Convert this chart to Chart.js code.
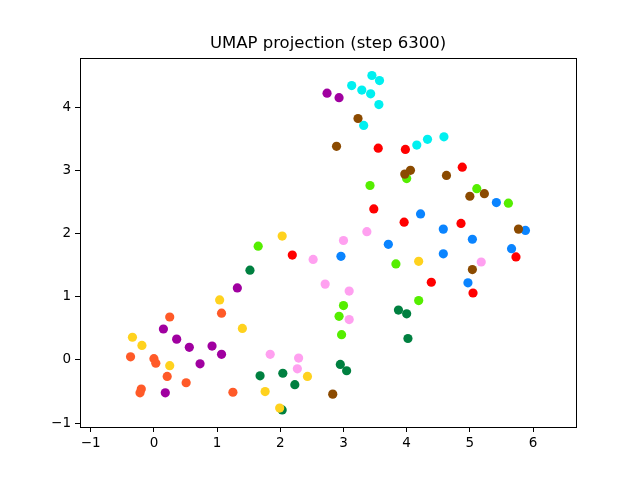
<!DOCTYPE html>
<html>
<head>
<meta charset="utf-8">
<script src="https://cdn.jsdelivr.net/npm/chart.js@4/dist/chart.umd.min.js"></script>
<style>
  html, body { margin: 0; padding: 0; background: #fff; }
</style>
</head>
<body>
<canvas id="umap" width="640" height="480"></canvas>
<script>
// embedding points per cluster
const brownPts = [[3.23,3.82],[2.89,3.38],[3.97,2.94],[4.06,3.00],[4.63,2.92],[5.00,2.59],[5.23,2.63],[5.77,2.07],[5.04,1.43],[2.83,-0.54]];
const yellowPts = [[-0.34,0.36],[-0.19,0.23],[0.25,-0.09],[1.04,0.95],[1.40,0.50],[2.03,1.96],[1.76,-0.50],[1.99,-0.76],[2.43,-0.26],[4.19,1.56]];
const bluePts = [[5.42,2.49],[5.88,2.05],[4.22,2.31],[4.58,2.07],[5.04,1.91],[3.71,1.83],[2.96,1.64],[4.58,1.68],[5.66,1.76],[4.97,1.22]];
const redPts = [[3.55,3.35],[3.98,3.33],[4.88,3.05],[3.48,2.39],[3.96,2.18],[4.86,2.16],[2.19,1.66],[5.73,1.63],[4.39,1.23],[5.05,1.06]];
const pinkPts = [[3.37,2.03],[3.00,1.89],[2.52,1.59],[1.84,0.09],[2.29,0.03],[2.27,-0.14],[2.71,1.20],[3.09,1.09],[3.09,0.64],[5.18,1.55]];
const cyanPts = [[3.45,4.50],[3.57,4.42],[3.13,4.34],[3.29,4.27],[3.43,4.21],[3.56,4.04],[3.32,3.71],[4.16,3.40],[4.33,3.49],[4.59,3.53]];
const purplePts = [[2.74,4.22],[2.93,4.15],[0.15,0.49],[0.36,0.33],[0.56,0.20],[0.73,-0.06],[0.92,0.22],[1.07,0.09],[1.32,1.14],[0.18,-0.52]];
const orangePts = [[0.25,0.68],[-0.37,0.05],[0.00,0.02],[0.03,-0.05],[0.21,-0.26],[0.51,-0.36],[-0.20,-0.46],[-0.22,-0.52],[1.07,0.74],[1.25,-0.51]];
const darkGreenPts = [[1.52,1.42],[1.68,-0.25],[2.04,-0.21],[2.23,-0.39],[2.03,-0.79],[3.87,0.79],[4.00,0.73],[4.02,0.34],[2.95,-0.07],[3.05,-0.17]];
const greenPts = [[1.65,1.80],[3.42,2.76],[4.00,2.87],[5.11,2.71],[5.61,2.48],[3.83,1.52],[4.19,0.94],[3.00,0.86],[2.93,0.69],[2.97,0.40]];

const xTicks = [-1, 0, 1, 2, 3, 4, 5, 6];
const yTicks = [-1, 0, 1, 2, 3, 4];

// first dataset ends up on top in chart.js
const groups = [
  [brownPts, '#8b4a00'],
  [yellowPts, '#ffd21e'],
  [bluePts, '#0a84ff'],
  [redPts, '#ff0000'],
  [pinkPts, '#ffa0f0'],
  [cyanPts, '#00f0f0'],
  [purplePts, '#a000a0'],
  [orangePts, '#ff5a28'],
  [darkGreenPts, '#008040'],
  [greenPts, '#55ee00'],
];

const datasets = groups.map(([pts, col]) => ({
  data: pts.map(p => ({ x: p[0], y: p[1] })),
  backgroundColor: col,
  borderWidth: 0,
  pointRadius: 4.6,
  pointHoverRadius: 4.6,
}));

// box around the axes, like matplotlib spines
const frame = {
  id: 'frame',
  afterDraw(chart) {
    const a = chart.chartArea, c = chart.ctx;
    c.save();
    c.strokeStyle = '#000';
    c.lineWidth = 1;
    c.strokeRect(Math.round(a.left) + 0.5, Math.round(a.top) + 0.5,
                 Math.round(a.right - a.left), Math.round(a.bottom - a.top));
    c.restore();
  }
};

const tickFont = { family: 'DejaVu Sans', size: 13.5 };
const minusLabel = v => String(v).replace('-', '\u2212');

new Chart(document.getElementById('umap'), {
  type: 'scatter',
  data: { datasets },
  plugins: [frame],
  options: {
    responsive: false,
    animation: false,
    devicePixelRatio: 1,
    // left pad + empty right axis keep the title centred over the plot box
    layout: { padding: { left: 16, right: 0, top: 0, bottom: 0 } },
    plugins: {
      legend: { display: false },
      tooltip: { enabled: false },
      title: {
        display: true,
        text: 'UMAP projection (step 6300)',
        color: '#000',
        font: { family: 'DejaVu Sans', size: 16.5, weight: 'normal' },
        padding: { top: 34, bottom: 4 }
      }
    },
    scales: {
      x: {
        type: 'linear',
        min: -1.17, max: 6.68,
        afterBuildTicks: s => { s.ticks = xTicks.map(v => ({ value: v })); },
        afterFit: s => { s.height = 53; },
        grid: { drawOnChartArea: false, tickLength: 5, color: '#000' },
        border: { display: false },
        ticks: { color: '#000', font: tickFont, padding: 3, maxRotation: 0, callback: minusLabel }
      },
      y: {
        type: 'linear',
        min: -1.06, max: 4.78,
        afterBuildTicks: s => { s.ticks = yTicks.map(v => ({ value: v })); },
        afterFit: s => { s.width = 64; },
        grid: { drawOnChartArea: false, tickLength: 5, color: '#000' },
        border: { display: false },
        ticks: { color: '#000', font: tickFont, padding: 4, callback: minusLabel }
      },
      spacer: {
        type: 'linear',
        position: 'right',
        min: 0, max: 1,
        afterFit: s => { s.width = 64; },
        grid: { display: false },
        border: { display: false },
        ticks: { display: false }
      }
    }
  }
});
</script>
</body>
</html>
